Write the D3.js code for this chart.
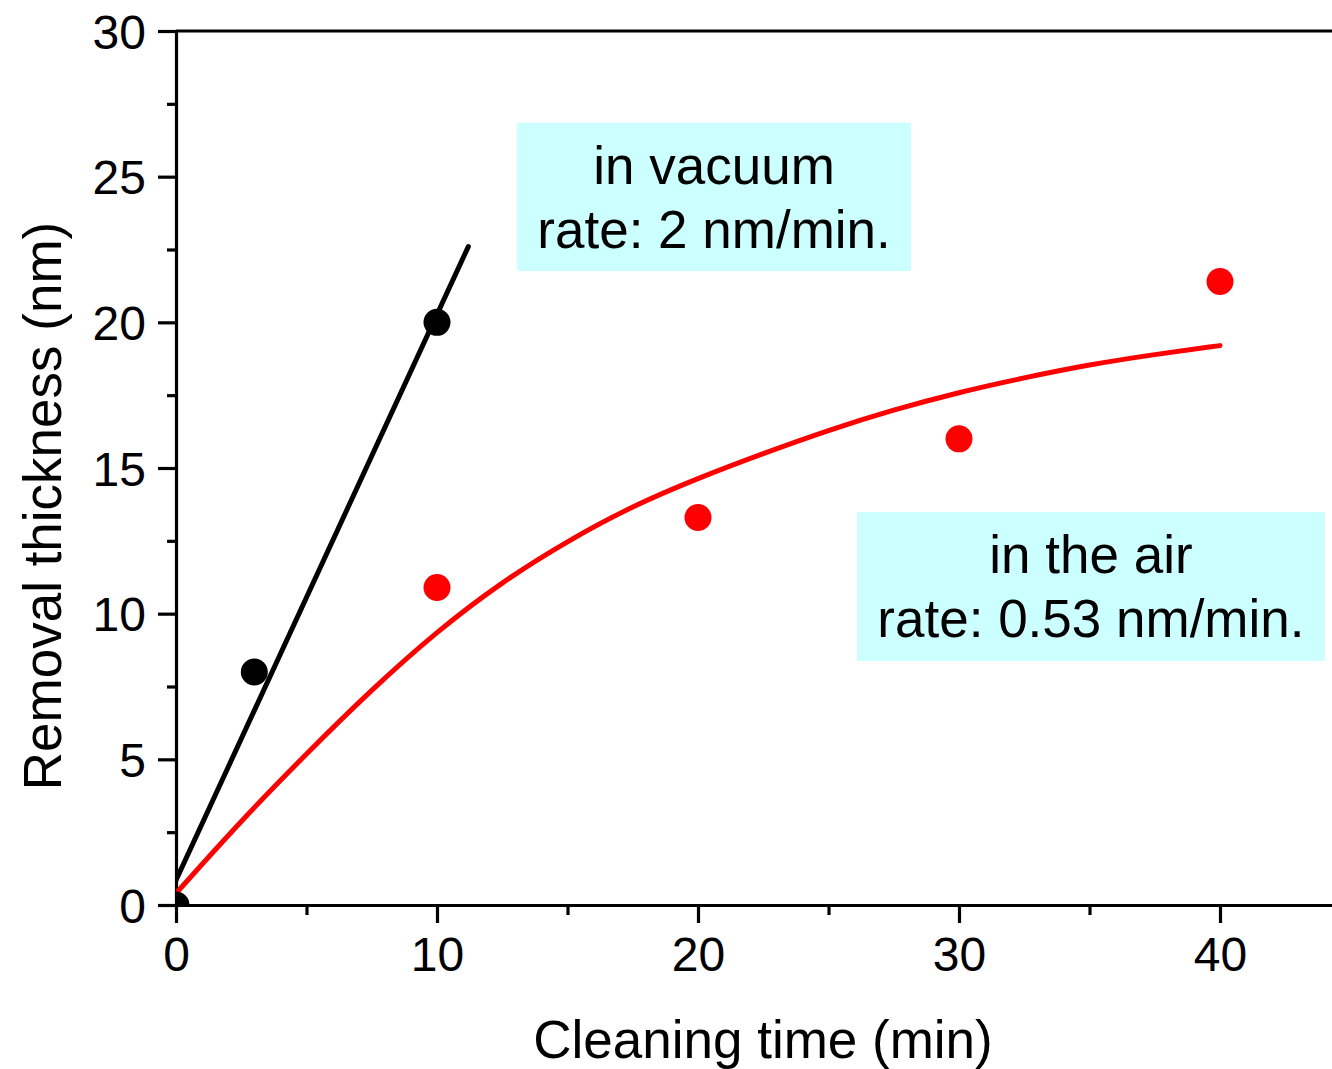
<!DOCTYPE html>
<html>
<head>
<meta charset="utf-8">
<script src="https://cdn.jsdelivr.net/npm/d3@7"></script>
<style>
    body { margin: 0; background: #fff; }
    svg { display: block; font-family: "Liberation Sans", Arial, sans-serif; }
    .axis text { font-size: 48px; fill: #000; }
    .axis path, .axis line { stroke: #000; stroke-width: 3.2; }
</style>
</head>
<body>
<div id="chart"></div>
<script>
// measured points
const vacuumTime = [0, 3, 10];
const vacuumThickness = [0, 8, 20];
const airTime = [10, 20, 30, 40];
const airThickness = [10.9, 13.3, 16.0, 21.4];

// fitted lines
const vacuumFitTime = [0, 11.2];
const vacuumFitThickness = [0.85, 22.6];
const airFitTime = [0, 2.5, 5, 7.5, 10, 12.5, 15, 17.5, 20, 22.5, 25, 27.5, 30, 32.5, 35, 37.5, 40];
const airFitThickness = [0.4, 2.9, 5.2, 7.4, 9.4, 11.1, 12.5, 13.7, 14.65, 15.5, 16.3, 17.0, 17.6, 18.1, 18.55, 18.9, 19.2];

const xTicks = [0, 10, 20, 30, 40];
const yTicks = [0, 5, 10, 15, 20, 25, 30];
const noteLines = [
    ["in vacuum", "rate: 2 nm/min."],
    ["in the air", "rate: 0.53 nm/min."]
];

class ThicknessChart {
    constructor(_config) {
        this.config = {
            parentElement: _config.parentElement,
            containerWidth: 1332,
            containerHeight: 1069,
            margin: { top: 31, right: 0, bottom: 164, left: 176 }
        }
        this.initVis();
    }

    initVis() {
        let vis = this;

        vis.width = vis.config.containerWidth - vis.config.margin.left - vis.config.margin.right;
        vis.height = vis.config.containerHeight - vis.config.margin.top - vis.config.margin.bottom;

        vis.xScale = d3.scaleLinear()
            .domain([0, 44.3])
            .range([0, 26.1 * 44.3]);

        vis.yScale = d3.scaleLinear()
            .domain([0, 30])
            .range([vis.height, 0]);

        vis.svg = d3.select(vis.config.parentElement).append('svg')
            .attr('width', vis.config.containerWidth)
            .attr('height', vis.config.containerHeight);

        vis.svg.append('defs').append('clipPath')
            .attr('id', 'plot-clip')
            .append('rect')
            .attr('width', vis.width)
            .attr('height', vis.height);

        vis.chartArea = vis.svg.append('g')
            .attr('transform', `translate(${vis.config.margin.left},${vis.config.margin.top})`);

        vis.renderVis();
    }

    renderVis() {
        let vis = this;

        // minor ticks first, majors with labels on top
        vis.chartArea.append('g')
            .attr('class', 'axis')
            .attr('transform', `translate(0,${vis.height})`)
            .call(d3.axisBottom(vis.xScale).tickValues([5, 15, 25, 35]).tickSize(10).tickFormat(''))
            .call(g => g.select('.domain').remove());

        vis.chartArea.append('g')
            .attr('class', 'axis')
            .call(d3.axisLeft(vis.yScale).tickValues(d3.range(2.5, 30, 5)).tickSize(9).tickFormat(''))
            .call(g => g.select('.domain').remove());

        vis.chartArea.append('g')
            .attr('class', 'axis x-axis')
            .attr('transform', `translate(0,${vis.height})`)
            .call(d3.axisBottom(vis.xScale).tickValues(xTicks).tickSize(18).tickPadding(14).tickSizeOuter(0));

        vis.chartArea.append('g')
            .attr('class', 'axis y-axis')
            .call(d3.axisLeft(vis.yScale).tickValues(yTicks).tickSize(18).tickPadding(12).tickSizeOuter(0))
            .call(g => g.selectAll('.tick text').attr('dy', '0.36em'));

        // top frame line
        vis.chartArea.append('line')
            .attr('x1', 0).attr('x2', vis.xScale(44.3))
            .attr('y1', vis.yScale(30)).attr('y2', vis.yScale(30))
            .attr('stroke', '#000').attr('stroke-width', 3.2);

        // annotation boxes (data coordinates)
        const boxes = [
            { x0: 13.07, x1: 28.16, y0: 26.85, y1: 21.76 },
            { x0: 26.09, x1: 44.02, y0: 13.49, y1: 8.38 }
        ];
        boxes.forEach((b, i) => {
            const g = vis.chartArea.append('g');
            g.append('rect')
                .attr('x', vis.xScale(b.x0))
                .attr('y', vis.yScale(b.y0))
                .attr('width', vis.xScale(b.x1) - vis.xScale(b.x0))
                .attr('height', vis.yScale(b.y1) - vis.yScale(b.y0))
                .attr('fill', '#ccffff');
            const cx = (vis.xScale(b.x0) + vis.xScale(b.x1)) / 2;
            g.selectAll('text')
                .data(noteLines[i])
                .join('text')
                .attr('x', cx)
                .attr('y', (d, j) => vis.yScale(b.y0) + 61 + j * 64)
                .attr('text-anchor', 'middle')
                .attr('font-size', 53)
                .text(d => d);
        });

        const line = d3.line()
            .x(d => vis.xScale(d[0]))
            .y(d => vis.yScale(d[1]));

        const plot = vis.chartArea.append('g').attr('clip-path', 'url(#plot-clip)');

        plot.append('path')
            .datum(d3.zip(vacuumFitTime, vacuumFitThickness))
            .attr('d', line)
            .attr('fill', 'none')
            .attr('stroke', '#000')
            .attr('stroke-width', 5)
            .attr('stroke-linecap', 'round');

        plot.append('path')
            .datum(d3.zip(airFitTime, airFitThickness))
            .attr('d', line.curve(d3.curveBasis))
            .attr('fill', 'none')
            .attr('stroke', '#ff0000')
            .attr('stroke-width', 5)
            .attr('stroke-linecap', 'round');

        plot.selectAll('.vac-point')
            .data(d3.zip(vacuumTime, vacuumThickness))
            .join('circle')
            .attr('class', 'vac-point')
            .attr('cx', d => vis.xScale(d[0]))
            .attr('cy', d => vis.yScale(d[1]))
            .attr('r', 13.5)
            .attr('fill', '#000');

        plot.selectAll('.air-point')
            .data(d3.zip(airTime, airThickness))
            .join('circle')
            .attr('class', 'air-point')
            .attr('cx', d => vis.xScale(d[0]))
            .attr('cy', d => vis.yScale(d[1]))
            .attr('r', 13.5)
            .attr('fill', '#ff0000');

        // axis titles
        vis.svg.append('text')
            .attr('x', 763)
            .attr('y', 1058)
            .attr('text-anchor', 'middle')
            .attr('font-size', 53)
            .text('Cleaning time (min)');

        vis.svg.append('text')
            .attr('transform', 'translate(61,506) rotate(-90)')
            .attr('text-anchor', 'middle')
            .attr('font-size', 53)
            .text('Removal thickness (nm)');
    }
}

new ThicknessChart({ parentElement: '#chart' });
</script>
</body>
</html>
